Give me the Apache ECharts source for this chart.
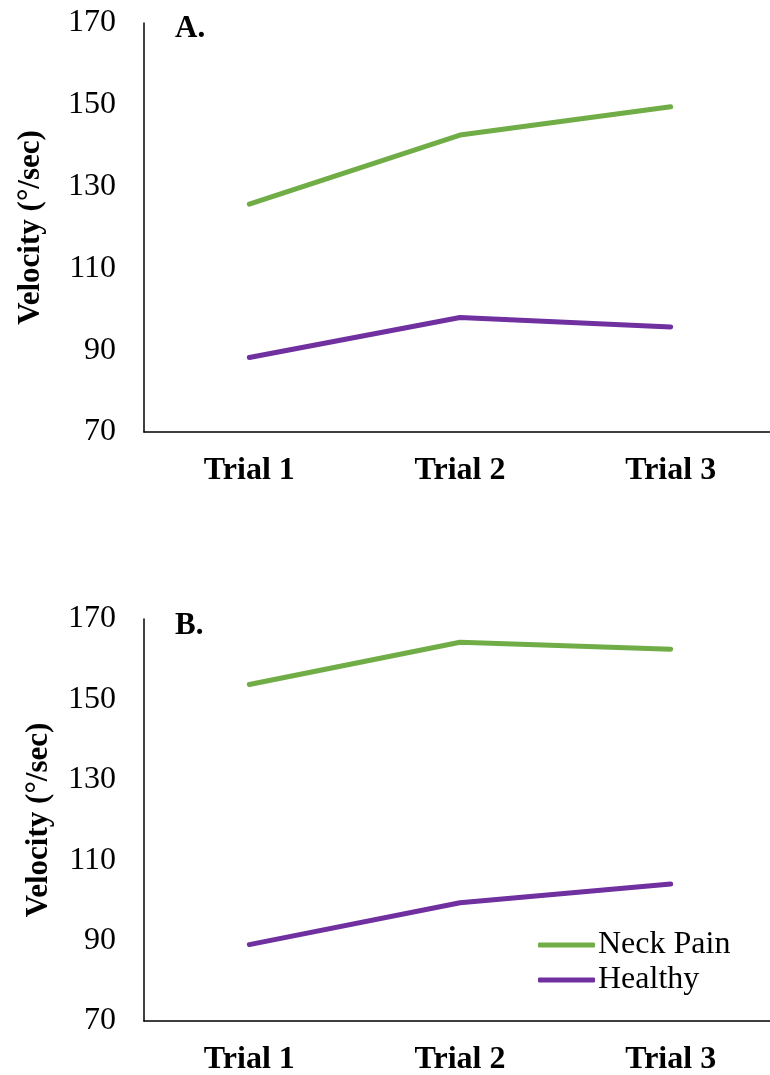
<!DOCTYPE html>
<html>
<head>
<meta charset="utf-8">
<script src="https://cdn.jsdelivr.net/npm/echarts@6/dist/echarts.min.js"></script>
<style>
html,body{margin:0;padding:0;background:#fff;}
#chart{width:770px;height:1075px;}
</style>
</head>
<body>
<div id="chart"></div>
<script>
var categories = ['Trial 1', 'Trial 2', 'Trial 3'];
var seriesNames = ['Neck Pain', 'Healthy'];
var panelA_neckPain = [125.7, 142.6, 149.5];
var panelA_healthy = [88.2, 98.0, 95.7];
var panelB_neckPain = [153.7, 164.2, 162.5];
var panelB_healthy = [89.0, 99.4, 104.1];
var yTicks = [70, 90, 110, 130, 150, 170];
var panelLabels = ['A.', 'B.'];
var yTitle = 'Velocity (°/sec)';

var FONT = 'Liberation Serif';
var GREEN = '#70AD47';
var PURPLE = '#7030A0';

function xAxisCfg(idx) {
  return {
    type: 'category', gridIndex: idx, data: categories, boundaryGap: true,
    axisLine: {show: true, lineStyle: {color: '#000', width: 1.5}},
    axisTick: {show: false},
    axisLabel: {fontFamily: FONT, fontSize: 32, fontWeight: 'bold', color: '#000', margin: 23},
    splitLine: {show: false}
  };
}
function yAxisCfg(idx, gap) {
  return {
    type: 'value', gridIndex: idx, min: yTicks[0], max: yTicks[yTicks.length - 1], interval: 20,
    name: yTitle, nameLocation: 'middle', nameGap: gap, nameRotate: 90,
    nameTextStyle: {fontFamily: FONT, fontSize: 31, fontWeight: 'bold', color: '#000'},
    axisLine: {show: true, lineStyle: {color: '#000', width: 1.5}},
    axisTick: {show: false},
    axisLabel: {fontFamily: FONT, fontSize: 32, color: '#000', margin: 28},
    splitLine: {show: false}
  };
}
function lineSeries(name, data, color, idx) {
  return {
    name: name, type: 'line', xAxisIndex: idx, yAxisIndex: idx, data: data,
    symbol: 'none', smooth: false, color: color,
    lineStyle: {color: color, width: 5, cap: 'round', join: 'round'},
    emphasis: {disabled: true}
  };
}

var chart = echarts.init(document.getElementById('chart'), null, {renderer: 'canvas'});
chart.setOption({
  animation: false,
  backgroundColor: '#fff',
  grid: [
    {left: 144, top: 23, width: 632, height: 409, outerBoundsMode: 'none', containLabel: false},
    {left: 144, top: 619, width: 632, height: 402, outerBoundsMode: 'none', containLabel: false}
  ],
  xAxis: [xAxisCfg(0), xAxisCfg(1)],
  yAxis: [yAxisCfg(0, 98), yAxisCfg(1, 90)],
  legend: {
    data: seriesNames, orient: 'vertical', left: 533, top: 924,
    icon: 'roundRect', itemWidth: 57, itemHeight: 5, itemGap: 3,
    textStyle: {fontFamily: FONT, fontSize: 32, color: '#000', padding: [0, 0, 0, -2]}
  },
  graphic: [
    {type: 'text', left: 175, top: 13, style: {text: panelLabels[0], font: 'bold 31px "Liberation Serif"', fill: '#000'}},
    {type: 'text', left: 175, top: 610, style: {text: panelLabels[1], font: 'bold 31px "Liberation Serif"', fill: '#000'}}
  ],
  series: [
    lineSeries(seriesNames[0], panelA_neckPain, GREEN, 0),
    lineSeries(seriesNames[1], panelA_healthy, PURPLE, 0),
    lineSeries(seriesNames[0], panelB_neckPain, GREEN, 1),
    lineSeries(seriesNames[1], panelB_healthy, PURPLE, 1)
  ]
});
</script>
</body>
</html>
